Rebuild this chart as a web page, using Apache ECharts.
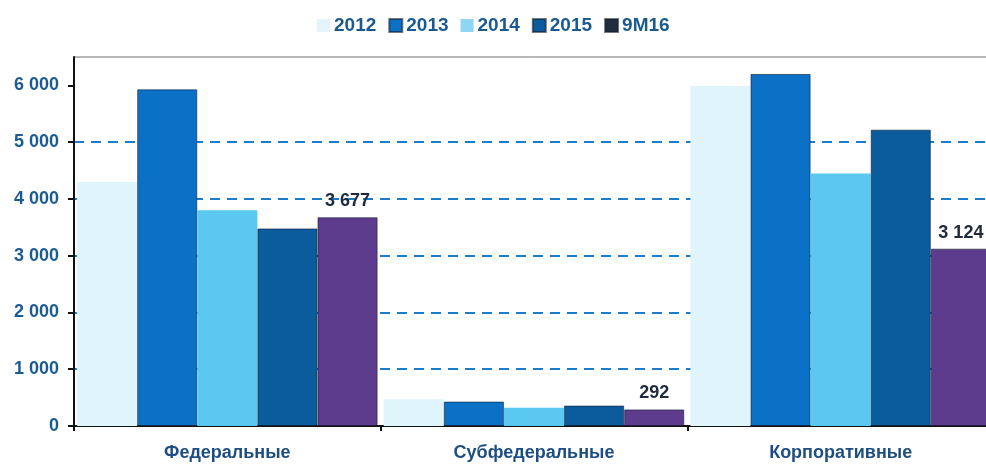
<!DOCTYPE html>
<html>
<head>
<meta charset="utf-8">
<script src="https://cdn.jsdelivr.net/npm/echarts@6/dist/echarts.min.js"></script>
<style>
  html, body { margin: 0; padding: 0; background: #fff; }
  #chart { width: 986px; height: 466px; }
</style>
</head>
<body>
<div id="chart"></div>
<script>
// categories and years
var categories = ['Федеральные', 'Субфедеральные', 'Корпоративные'];
var years = ['2012', '2013', '2014', '2015', '9M16'];

// values
var v2012 = [4300, 470, 5990];
var v2013 = [5930, 430, 6200];
var v2014 = [3800, 320, 4450];
var v2015 = [3480, 360, 5220];
var v9m16 = [3677, 292, 3124];

var yTicks = [0, 1000, 2000, 3000, 4000, 5000, 6000];

var barColors = ['#dff4fb', '#0a71c6', '#5ac8f1', '#0a5c9c', '#5d3b8d'];
var legendColors = ['#e3f5fb', '#0a71c6', '#8fd6f2', '#0a5c9c', '#1f2d3d'];

function spaced(v) {
  return String(v).replace(/\B(?=(\d{3})+(?!\d))/g, ' ');
}

var font = 'Liberation Sans, Arial, sans-serif';
var chart = echarts.init(document.getElementById('chart'));

var allData = [v2012, v2013, v2014, v2015, v9m16];
var series = [];
for (var i = 0; i < years.length; i++) {
  var s = {
    name: years[i],
    type: 'bar',
    data: allData[i],
    barGap: '0%',
    barCategoryGap: '2%',
    itemStyle: {
      color: barColors[i],
      borderColor: i === 0 || i === 2 ? barColors[i] : 'rgba(20,30,50,0.6)',
      borderWidth: i === 0 || i === 2 ? 0 : 1
    }
  };
  if (i === 4) {
    s.label = {
      show: true,
      position: 'top',
      distance: 7,
      color: '#1f2b3c',
      fontFamily: font,
      fontWeight: 'bold',
      fontSize: 18,
      formatter: function (p) { return spaced(p.value); }
    };
  }
  series.push(s);
}

var option = {
  animation: false,
  backgroundColor: '#fff',
  legend: {
    left: 312,
    top: 11,
    icon: 'rect',
    itemWidth: 13,
    itemHeight: 13,
    itemGap: 12,
    textStyle: {
      color: '#1b5a91',
      fontFamily: font,
      fontWeight: 'bold',
      fontSize: 19,
      padding: [0, 0, 0, -1]
    },
    data: years.map(function (y, i) {
      return { name: y, itemStyle: { color: legendColors[i] } };
    })
  },
  grid: {
    left: 74,
    top: 57,
    width: 920,
    bottom: 40,
    outerBoundsMode: 'none',
    containLabel: false,
    show: true,
    borderColor: '#6e6e6e',
    borderWidth: 1
  },
  xAxis: {
    type: 'category',
    data: categories,
    axisLine: { lineStyle: { color: '#111', width: 2 } },
    axisTick: { show: true, length: 5, lineStyle: { color: '#111', width: 2 } },
    axisLabel: {
      margin: 18,
      color: '#1c4e84',
      fontFamily: font,
      fontWeight: 'bold',
      fontSize: 18
    },
    splitLine: { show: false }
  },
  yAxis: {
    type: 'value',
    min: 0,
    max: 6500,
    interval: 1000,
    axisLine: { show: true, lineStyle: { color: '#111', width: 2 } },
    axisTick: { show: true, length: 6, customValues: yTicks, lineStyle: { color: '#111', width: 2 } },
    axisLabel: {
      margin: 15,
      customValues: yTicks,
      color: '#1a5b94',
      fontFamily: font,
      fontWeight: 'bold',
      fontSize: 18,
      formatter: function (v) { return spaced(v); }
    },
    splitLine: {
      show: true,
      showMinLine: false,
      showMaxLine: false,
      lineStyle: { color: '#1a7ccc', type: [10, 7], width: 2 }
    }
  },
  series: series
};

chart.setOption(option);
</script>
</body>
</html>
